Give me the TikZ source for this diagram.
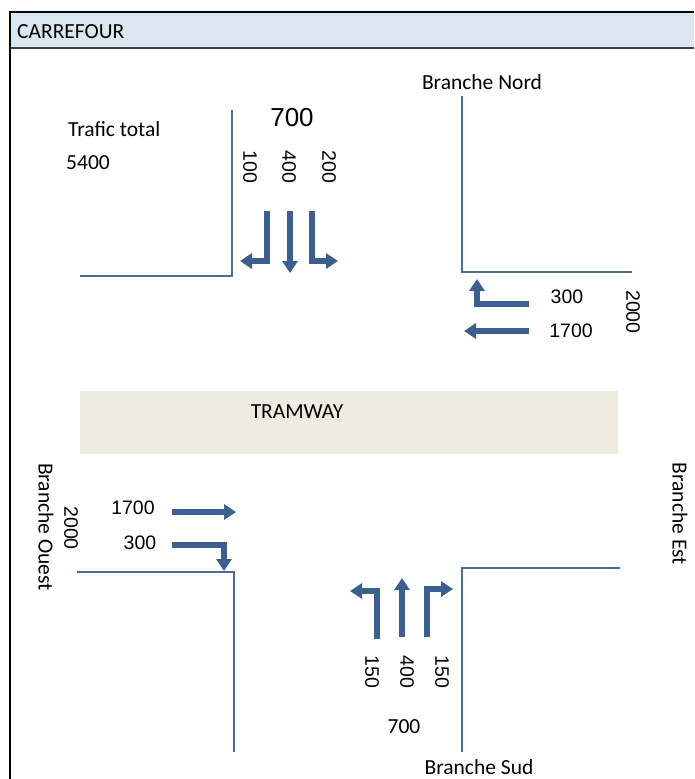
\documentclass[tikz,border=0pt]{standalone}
\usepackage{fontspec}
\setmainfont{Carlito}
\newfontfamily\numfont{Liberation Sans}
\usetikzlibrary{arrows.meta}
\definecolor{RoadBlue}{HTML}{4A6C9B}
\definecolor{FlowBlue}{HTML}{3B5F8F}
\definecolor{HeadBlue}{HTML}{DCE6F1}
\definecolor{TramBeige}{HTML}{EEECE1}

\begin{document}
\begin{tikzpicture}[x=1pt, y=-1pt,
    road/.style={draw=RoadBlue, line width=2pt},
    flow/.style={draw=FlowBlue, line width=5.5pt, line join=miter,
      -{Triangle[length=12pt, width=15pt]}},
    lbl/.style={font=\fontsize{21.5}{25}\selectfont, inner sep=0pt},
    num/.style={font=\numfont\fontsize{19.5}{23}\selectfont, inner sep=0pt},
    vnum/.style={num, rotate=-90},
    vlbl/.style={lbl, rotate=-90}
  ]
    \useasboundingbox (0,0) rectangle (694,779);
    % frame and header
    \fill[HeadBlue] (10,12) rectangle (694,48);
    \draw[line width=1.2pt, black!75] (10,48) -- (694,48);
    \draw[line width=2pt] (10,779) -- (10,12) -- (694,12);
    \node[lbl, anchor=west] (title) at (17,32) {CARREFOUR};

    % tramway
    \fill[TramBeige] (80,391) rectangle (618,454);
    \node[lbl] (tram) at (297,412) {TRAMWAY};

    % road edges
    \draw[road] (80,276) -- (232,276) -- (232,110);
    \draw[road] (462,96) -- (462,272) -- (632,272);
    \draw[road] (77,572) -- (234,572) -- (234,752);
    \draw[road] (462,752) -- (462,568) -- (620,568);

    % branch names and total
    \node[lbl] (nord) at (482,82) {Branche Nord};
    \node[lbl] (sud) at (479,767) {Branche Sud};
    \node[vlbl] (ouest) at (46,527) {Branche Ouest};
    \node[vlbl] (est) at (680,514) {Branche Est};
    \node[lbl, anchor=west] (total) at (68,129) {Trafic total};
    \node[lbl, anchor=west] (totval) at (66,163) {5400};

    % north approach
    \node[num, font=\numfont\fontsize{26}{30}\selectfont] (n700) at (292,118) {700};
    \node[vnum] (nl) at (250,167) {100};
    \node[vnum] (ns) at (289,167) {400};
    \node[vnum] (nr) at (329,167) {200};
    \draw[flow] (267,211) -- (267,261) -- (240,261);
    \draw[flow] (290,211) -- (290,273);
    \draw[flow] (312,211) -- (312,261) -- (338,261);

    % east approach
    \node[num] (e300) at (567,297) {300};
    \node[num] (e1700) at (571,331) {1700};
    \node[vnum] (e2000) at (633,312) {2000};
    \draw[flow] (529,304) -- (477,304) -- (477,279);
    \draw[flow] (529,331) -- (464,331);

    % west approach
    \node[num] (w1700) at (133,508) {1700};
    \node[num] (w300) at (140,543) {300};
    \node[vnum] (w2000) at (71,528) {2000};
    \draw[flow] (172,512) -- (236,512);
    \draw[flow] (172,545) -- (224,545) -- (224,571);

    % south approach
    \node[vnum] (sl) at (372,672) {150};
    \node[vnum] (ss) at (407,672) {400};
    \node[vnum] (sr) at (442,672) {150};
    \node[lbl] (s700) at (404,727) {700};
    \draw[flow] (377,639) -- (377,591) -- (350,591);
    \draw[flow] (402,637) -- (402,578);
    \draw[flow] (427,637) -- (427,589) -- (453,589);
  \end{tikzpicture}
\end{document}
